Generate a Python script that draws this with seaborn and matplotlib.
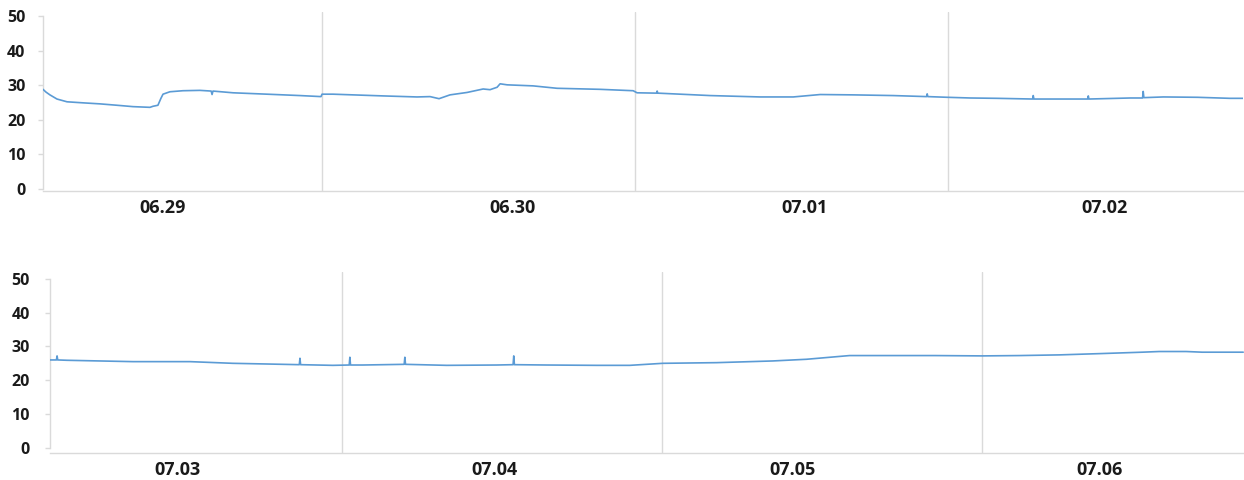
import numpy as np
import pandas as pd
import matplotlib
matplotlib.use("Agg")
import matplotlib.pyplot as plt
import seaborn as sns

# Temperature log, hours counted from the start of each 4-day window
top_hours = [2.61, 2.84, 3.14, 3.68, 4.45, 5.67, 6.98, 8.28, 9.51, 10.81, 11.04, 11.42,
             11.65, 11.81, 12.34, 13.34, 14.64, 15.50, 15.57, 15.64, 17.18, 19.78, 22.31,
             23.92, 24.00, 24.84, 28.68, 31.28, 32.28, 32.97, 33.81, 35.12, 36.35, 36.88,
             37.42, 37.65, 38.19, 40.18, 42.02, 45.32, 47.85, 48.15, 49.64, 49.69, 49.74,
             53.75, 57.59, 60.12, 62.19, 64.72, 67.79, 70.34, 70.39, 70.44, 71.93, 73.69,
             75.76, 78.47, 78.52, 78.57, 80.82, 82.69, 82.74, 82.79, 85.96, 86.90, 86.95,
             87.00, 88.49, 91.10, 93.60, 94.60]
top_temp = [28.8, 28.0, 27.2, 26.0, 25.2, 24.9, 24.6, 24.2, 23.8, 23.6, 23.9, 24.2,
            26.2, 27.4, 28.1, 28.4, 28.5, 28.3, 27.3, 28.3, 27.8, 27.4, 27.0,
            26.7, 27.4, 27.4, 26.9, 26.6, 26.7, 26.1, 27.2, 27.9, 28.9, 28.7,
            29.4, 30.4, 30.1, 29.8, 29.1, 28.8, 28.4, 27.8, 27.7, 28.3, 27.7,
            27.0, 26.6, 26.6, 27.3, 27.2, 27.0, 26.7, 27.5, 26.7, 26.5, 26.3,
            26.2, 26.0, 27.0, 26.0, 26.0, 26.0, 26.9, 26.0, 26.3, 26.3, 28.2,
            26.4, 26.6, 26.5, 26.2, 26.2]

bottom_hours = [2.13, 2.61, 2.66, 2.71, 3.41, 5.88, 8.35, 12.62, 15.84, 18.38, 20.81,
                20.86, 20.91, 23.33, 24.55, 24.60, 24.65, 25.57, 28.67, 28.72, 28.77,
                31.86, 35.61, 36.83, 36.88, 36.93, 39.35, 43.09, 45.57, 48.04, 52.08,
                56.27, 58.82, 62.04, 64.51, 68.45, 72.00, 74.77, 77.76, 80.98, 83.98,
                85.25, 87.27, 88.47, 91.54]
bottom_temp = [26.0, 26.0, 27.2, 26.0, 25.9, 25.7, 25.5, 25.5, 25.0, 24.8, 24.6,
               26.5, 24.6, 24.4, 24.5, 26.8, 24.5, 24.5, 24.7, 26.8, 24.7,
               24.4, 24.5, 24.6, 27.2, 24.6, 24.5, 24.4, 24.4, 25.0, 25.2,
               25.7, 26.2, 27.3, 27.3, 27.3, 27.2, 27.3, 27.5, 27.9, 28.3,
               28.5, 28.5, 28.3, 28.3]

top_days = ["06.29", "06.30", "07.01", "07.02"]
bottom_days = ["07.03", "07.04", "07.05", "07.06"]
y_ticks = [0, 10, 20, 30, 40, 50]

# Layout
top_day_pos = [11.8, 38.6, 61.0, 84.0]
bottom_day_pos = [11.7, 35.4, 57.8, 80.8]
day_breaks = [24, 48, 72]

sns.set_theme(style="white")
plt.rcParams["font.family"] = ["Open Sans", "DejaVu Sans"]

LINE = "#5b9bd5"
GRID = "#dadada"
TEXT = "#1a1a1a"

fig = plt.figure(figsize=(12.44, 4.8), dpi=100)

W, H = 1244, 480


def make_axes(left_px, right_px, top_px, bottom_px):
    return fig.add_axes([left_px / W, 1 - bottom_px / H,
                         (right_px - left_px) / W, (bottom_px - top_px) / H])


ax_top = make_axes(43, 1243, 11.8, 191.1)
ax_bot = make_axes(50, 1244, 272.2, 453.1)

panels = [
    (ax_top, top_hours, top_temp, top_days, top_day_pos, (2.61, 94.6), (-0.6, 51.2), 9.0),
    (ax_bot, bottom_hours, bottom_temp, bottom_days, bottom_day_pos, (2.13, 91.6), (-1.6, 52.0), 11.0),
]

for ax, hrs, temp, days, day_pos, xlim, ylim, ypad in panels:
    df = pd.DataFrame({"hour": hrs, "temp": temp})
    for b in day_breaks:
        ax.axvline(b, color=GRID, lw=1.0, zorder=1)
    sns.lineplot(data=df, x="hour", y="temp", ax=ax, color=LINE, lw=1.2,
                 estimator=None, sort=False, zorder=3)
    ax.set_xlim(*xlim)
    ax.set_ylim(*ylim)
    ax.set_xlabel("")
    ax.set_ylabel("")
    for s in ["top", "right"]:
        ax.spines[s].set_visible(False)
    ax.spines["left"].set_color(GRID)
    ax.spines["left"].set_linewidth(1.0)
    ax.spines["left"].set_bounds(0, 50)
    ax.spines["bottom"].set_color(GRID)
    ax.spines["bottom"].set_linewidth(1.0)
    ax.set_yticks(y_ticks)
    ax.set_yticklabels([str(v) for v in y_ticks], fontsize=11.5,
                       fontweight="bold", color=TEXT)
    ax.tick_params(axis="y", length=3.6, width=1.0, color=GRID, pad=ypad, left=True)
    ax.set_xticks(day_pos)
    ax.set_xticklabels(days, fontsize=13, fontweight="bold", color=TEXT)
    ax.tick_params(axis="x", length=0, pad=6)
    ax.grid(False)

fig.savefig("out.png", dpi=100, facecolor="white")
